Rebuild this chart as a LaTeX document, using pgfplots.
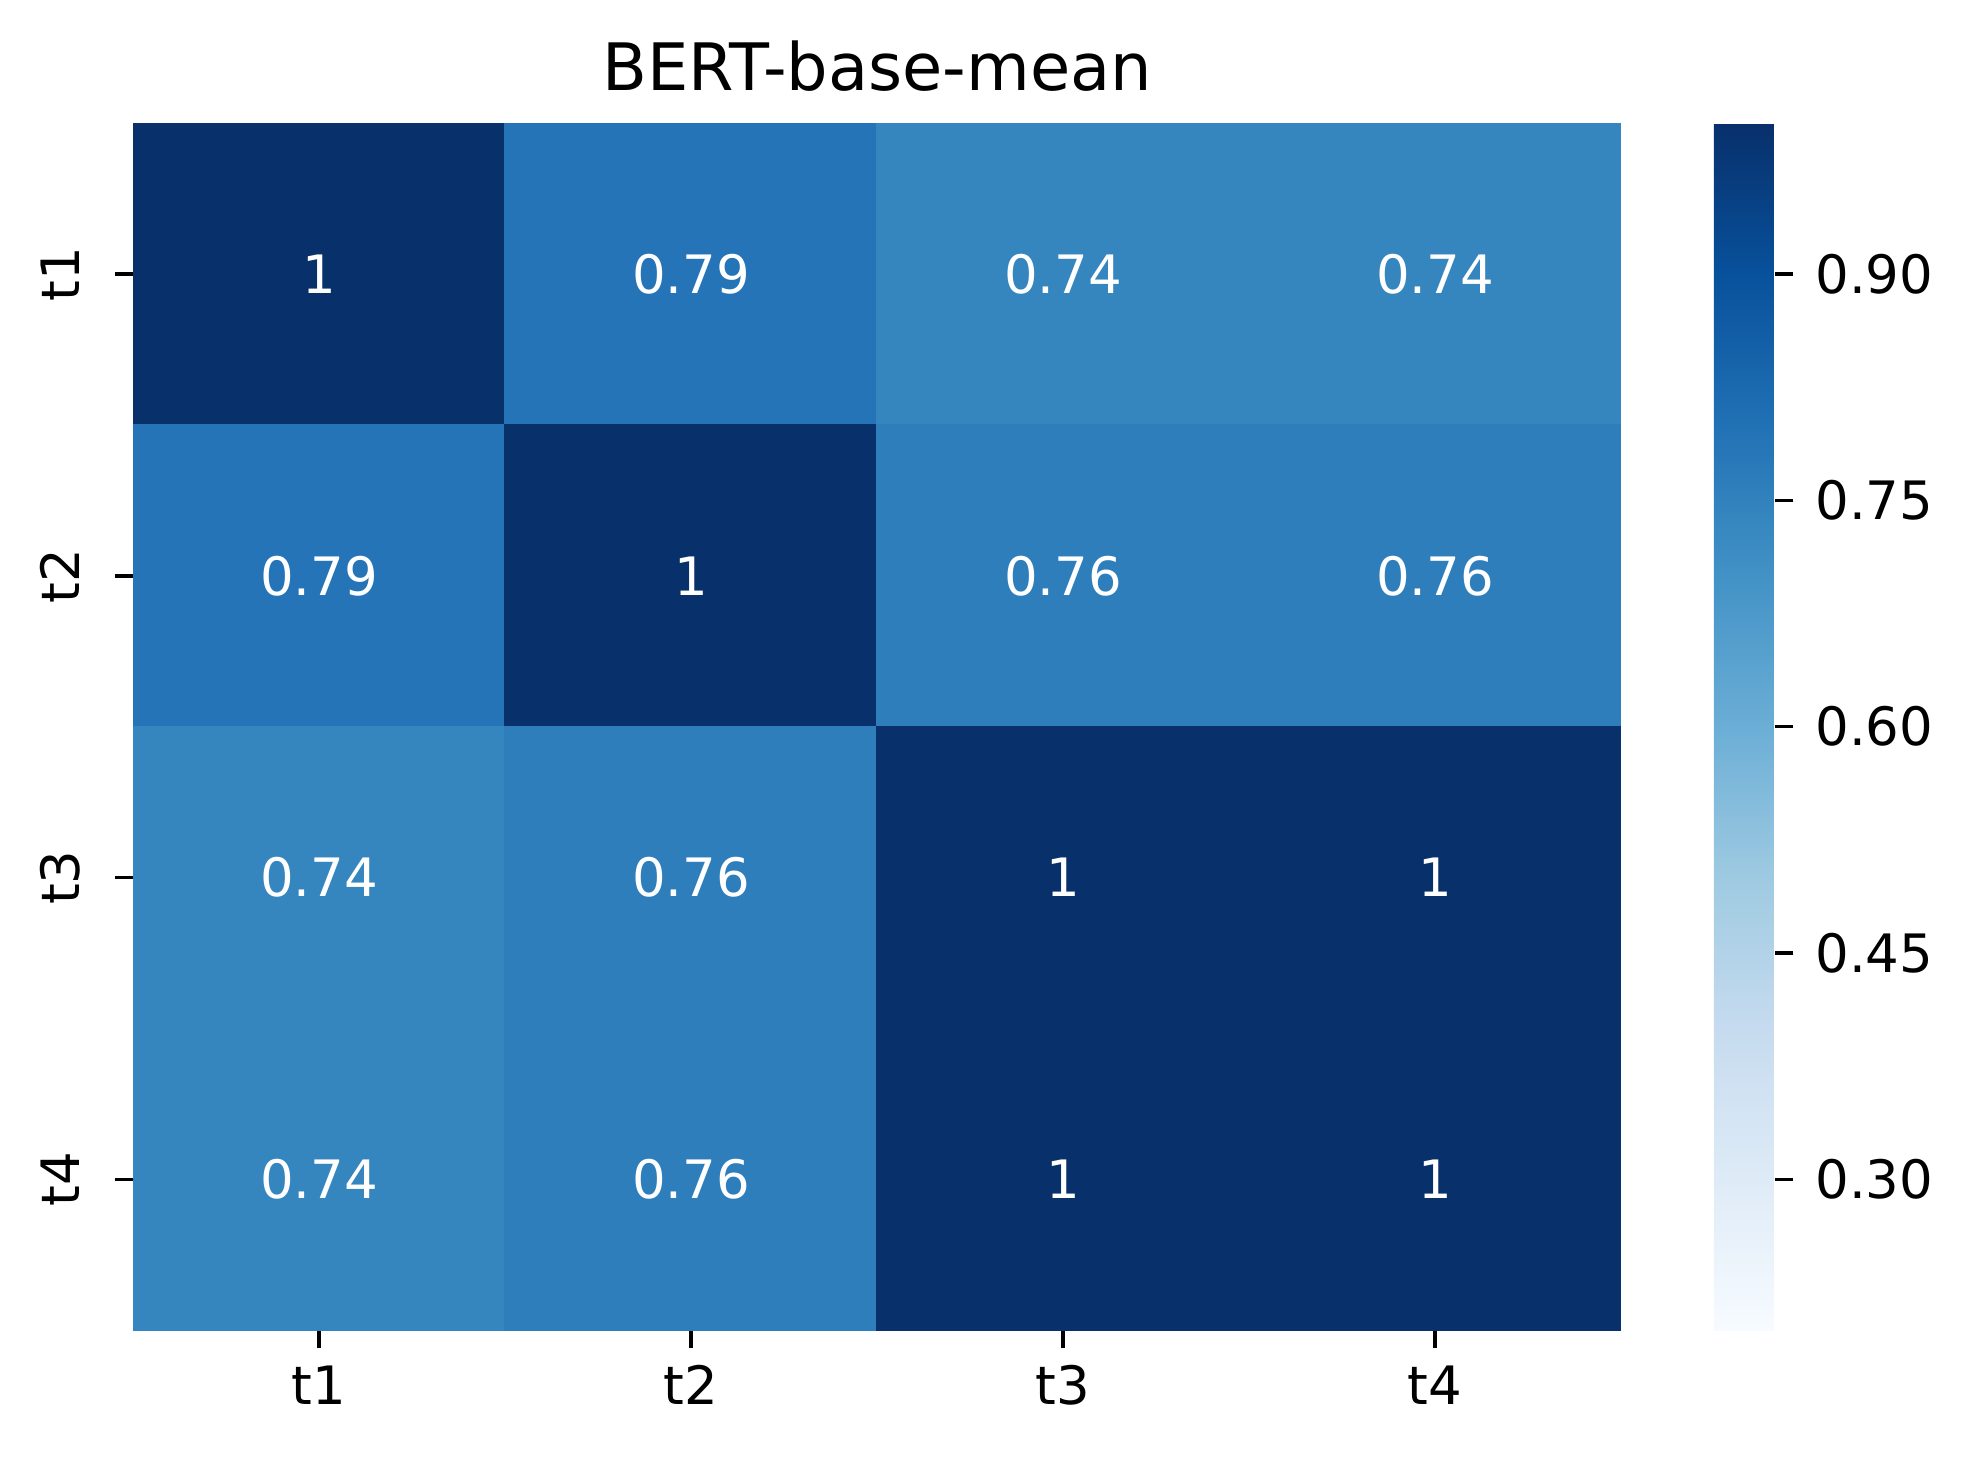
\documentclass[border=0pt]{standalone}
\usepackage{pgfplots}
\pgfplotsset{compat=1.18}
\usepackage{fontspec}
\setmainfont{DejaVu Sans}

\pgfplotsset{
  colormap={blues}{
    rgb255=(247,251,255) rgb255=(222,235,247) rgb255=(198,219,239)
    rgb255=(158,202,225) rgb255=(107,174,214) rgb255=(66,146,198)
    rgb255=(33,113,181)  rgb255=(8,81,156)    rgb255=(8,48,107)
  },
}

\begin{document}
\begin{tikzpicture}[x=1pt,y=1pt]
  \path[use as bounding box] (0,0) rectangle (474.48,351.36);
  \begin{axis}[
      at={(31.92pt,32.1pt)}, anchor=south west,
      scale only axis,
      width=357.1pt, height=289.7pt,
      colormap name=blues,
      point meta min=0.2, point meta max=1.0,
      xmin=-0.5, xmax=3.5, ymin=-0.5, ymax=3.5,
      y dir=reverse,
      enlargelimits=false,
      axis line style={draw=none},
      xtick={0,1,2,3}, ytick={0,1,2,3},
      xticklabels={t1,t2,t3,t4},
      yticklabels={t1,t2,t3,t4},
      xtick pos=bottom, ytick pos=left,
      tick align=outside,
      major tick length=4.32pt,
      tick style={black, line width=0.8pt},
      ticklabel style={font=\fontsize{12.7}{15}\selectfont, inner sep=0pt},
      xticklabel style={anchor=base, yshift=-13.4pt},
      yticklabel style={rotate=90, anchor=base, yshift=8.6pt},
      /pgf/number format/assume math mode=true,
      title={BERT-base-mean},
      title style={at={(0.5,1)}, anchor=base, yshift=1.9pt,
        font=\fontsize{15.7}{19}\selectfont, inner sep=0pt},
      colorbar,
      colorbar style={
        at={(parent axis.north east)}, anchor=north west,
        xshift=13.8pt,
        width=14.64pt, height=289.7pt,
        axis line style={draw=none},
        ytick={0.3,0.45,0.6,0.75,0.9},
        ytick pos=right,
        tick align=outside,
        major tick length=4.4pt,
        tick style={black, line width=0.8pt},
        yticklabel style={
          font=\fontsize{12.7}{15}\selectfont, inner sep=0pt,
          anchor=west, xshift=5.1pt,
          /pgf/number format/.cd, fixed, fixed zerofill, precision=2,
          assume math mode=true},
      },
    ]
    \addplot[
        matrix plot*, mesh/cols=4, point meta=explicit,
        nodes near coords,
        nodes near coords style={white, anchor=center,
          font=\fontsize{12.7}{15}\selectfont},
      ] table[meta=c] {
      x y c
      0 0 1
      1 0 0.79
      2 0 0.74
      3 0 0.74
      0 1 0.79
      1 1 1
      2 1 0.76
      3 1 0.76
      0 2 0.74
      1 2 0.76
      2 2 1
      3 2 1
      0 3 0.74
      1 3 0.76
      2 3 1
      3 3 1
    };
  \end{axis}
\end{tikzpicture}
\end{document}
